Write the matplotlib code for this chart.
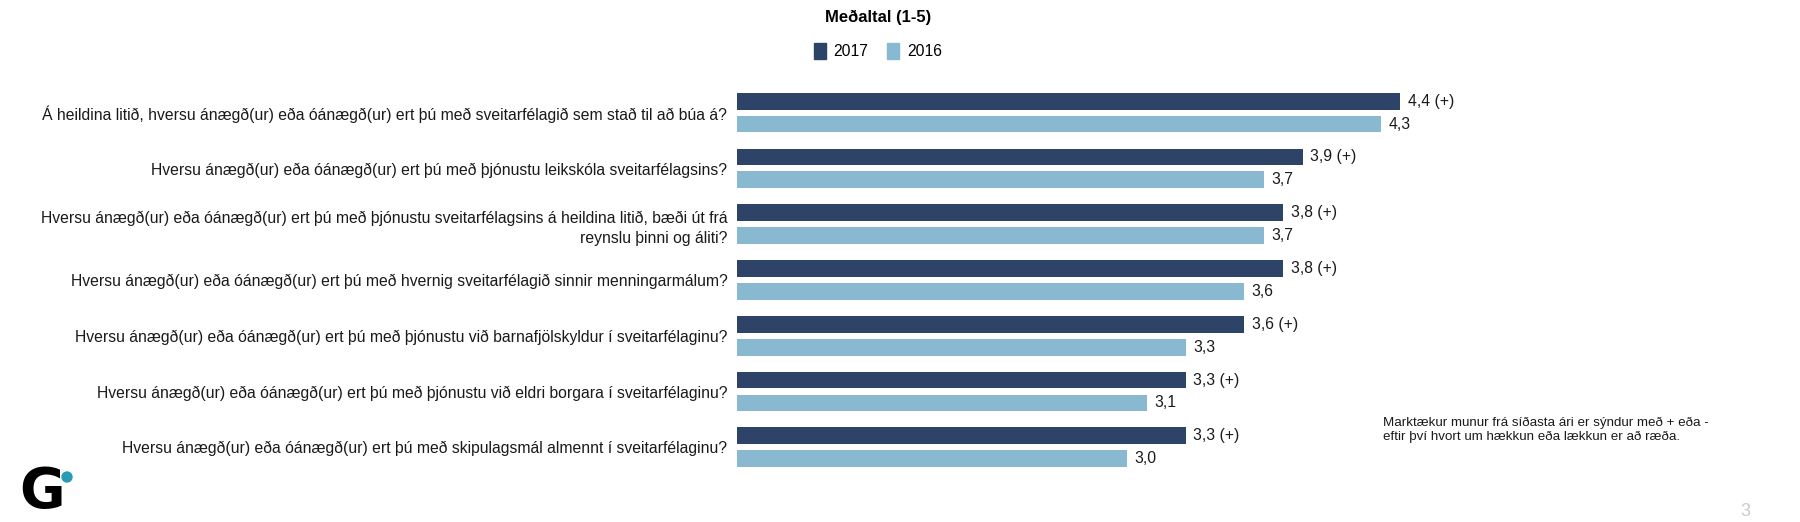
import numpy as np
import matplotlib.pyplot as plt
from matplotlib.patches import Patch, Circle

plt.rcParams['font.family'] = ['Liberation Sans', 'DejaVu Sans']

# data
questions = [
    "Á heildina litið, hversu ánægð(ur) eða óánægð(ur) ert þú með sveitarfélagið sem stað til að búa á?",
    "Hversu ánægð(ur) eða óánægð(ur) ert þú með þjónustu leikskóla sveitarfélagsins?",
    "Hversu ánægð(ur) eða óánægð(ur) ert þú með þjónustu sveitarfélagsins á heildina litið, bæði út frá\nreynslu þinni og áliti?",
    "Hversu ánægð(ur) eða óánægð(ur) ert þú með hvernig sveitarfélagið sinnir menningarmálum?",
    "Hversu ánægð(ur) eða óánægð(ur) ert þú með þjónustu við barnafjölskyldur í sveitarfélaginu?",
    "Hversu ánægð(ur) eða óánægð(ur) ert þú með þjónustu við eldri borgara í sveitarfélaginu?",
    "Hversu ánægð(ur) eða óánægð(ur) ert þú með skipulagsmál almennt í sveitarfélaginu?",
]
vals_2017 = [4.4, 3.9, 3.8, 3.8, 3.6, 3.3, 3.3]
vals_2016 = [4.3, 3.7, 3.7, 3.6, 3.3, 3.1, 3.0]
signif_2017 = ["(+)", "(+)", "(+)", "(+)", "(+)", "(+)", "(+)"]
years = ["2017", "2016"]

dark = '#2D4368'
light = '#89B8D1'
txt = '#1a1a1a'

W, H = 1800, 522
fig = plt.figure(figsize=(18, 5.22), dpi=100)
ax = fig.add_axes([737 / W, 0.0897, 780 / W, 0.748])

y = np.arange(len(questions))
off = 0.205
bh = 0.30
ax.barh(y - off, np.array(vals_2017) - 1, left=1, height=bh, color=dark)
ax.barh(y + off, np.array(vals_2016) - 1, left=1, height=bh, color=light)

for i in range(len(questions)):
    ax.text(vals_2017[i] + 0.04, y[i] - off, f"{vals_2017[i]:.1f}".replace('.', ',') + " " + signif_2017[i],
            va='center', ha='left', fontsize=11.3, color=txt)
    ax.text(vals_2016[i] + 0.04, y[i] + off, f"{vals_2016[i]:.1f}".replace('.', ','),
            va='center', ha='left', fontsize=11.3, color=txt)

ax.set_xlim(1, 5)
ax.set_ylim(6.5, -0.5)
ax.set_yticks(y)
ax.set_yticklabels(questions, fontsize=11.3, color=txt, ha='right', linespacing=1.45)
ax.tick_params(axis='y', length=0, pad=7)
ax.set_xticks([])
for s in ax.spines.values():
    s.set_visible(False)

fig.text(878 / W, 1 - 17 / H, "Meðaltal (1-5)", ha='center', va='center', fontsize=12, fontweight='bold')
handles = [Patch(color=dark, label=years[0]), Patch(color=light, label=years[1])]
fig.legend(handles=handles, loc='center', bbox_to_anchor=(878 / W, 1 - 51 / H), ncol=2, frameon=False,
           fontsize=11.3, handlelength=0.75, handleheight=1.2, handletextpad=0.5, columnspacing=1.2)

fig.text(1383 / W, 1 - 430 / H,
         "Marktækur munur frá síðasta ári er sýndur með + eða -\neftir því hvort um hækkun eða lækkun er að ræða.",
         ha='left', va='center', fontsize=9.6, color=txt, linespacing=1.25)

fig.text(1745 / W, 1 - 512 / H, "3", ha='center', va='center', fontsize=13, color='#cccccc')

# logo
fig.text(42 / W, 1 - 492 / H, "G", ha='center', va='center', fontsize=40, fontweight='bold', color='black',
         family=['DejaVu Sans'])
fig.patches.append(Circle((0.67, (H - 477) / 100), 0.05, transform=fig.dpi_scale_trans, color='#2A9BB5',
                          figure=fig))

fig.savefig('out.png', dpi=100, facecolor='white')
